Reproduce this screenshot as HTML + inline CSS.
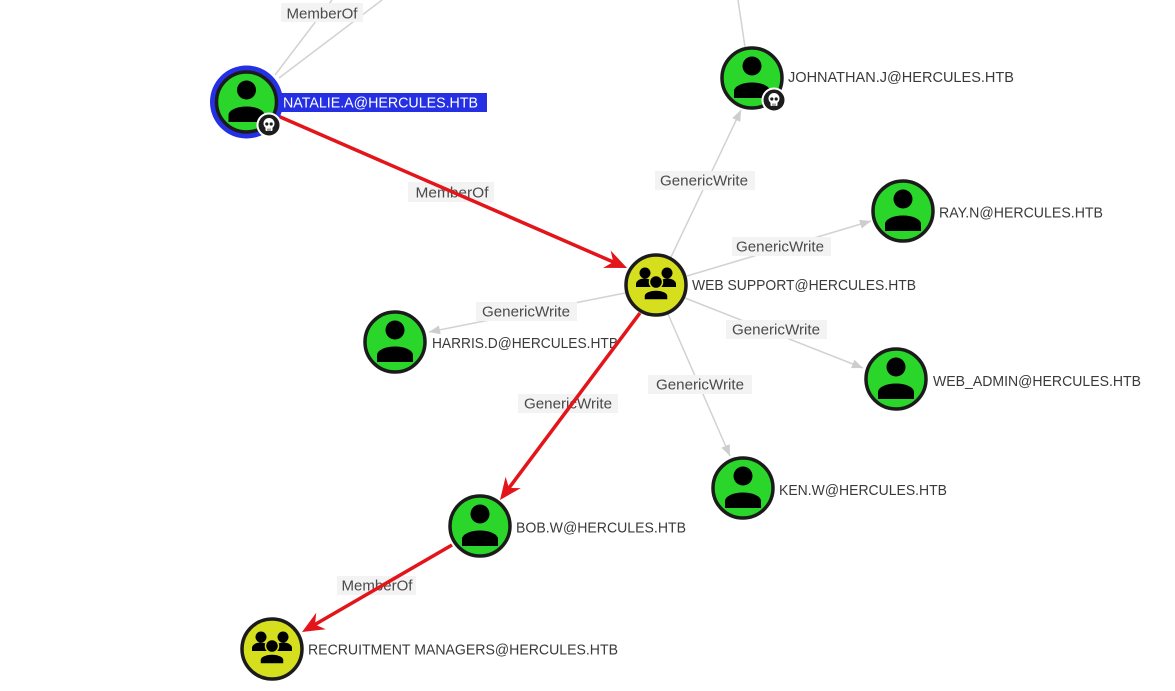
<!DOCTYPE html>
<html>
<head>
<meta charset="utf-8">
<style>
  html,body{margin:0;padding:0;background:#fff;}
  svg{display:block;}
  .el{font-family:"Liberation Sans",Arial,sans-serif;font-size:15px;fill:#4a4a4a;}
  .nl{font-family:"Liberation Sans",Arial,sans-serif;font-size:15px;fill:#3a3a3a;}
</style>
</head>
<body>
<svg width="1175" height="691" viewBox="0 0 1175 691" xmlns="http://www.w3.org/2000/svg">
  <defs>
    <marker id="ar" viewBox="-36 -11 38 22" refX="-14" refY="0" markerWidth="38" markerHeight="22" markerUnits="userSpaceOnUse" orient="auto">
      <path d="M0,0 L-22,-9.5 L-15,0 L-22,9.5 Z" fill="#e3151a"/>
    </marker>
    <marker id="ag" viewBox="-12 -6 14 12" refX="0" refY="0" markerWidth="14" markerHeight="12" markerUnits="userSpaceOnUse" orient="auto">
      <path d="M0,0 L-11,-4.5 L-11,4.5 Z" fill="#cdcdcd"/>
    </marker>
    <g id="user">
      <circle r="30" fill="#2bd62b" stroke="#1b1b1b" stroke-width="3.5"/>
      <circle cx="0" cy="-12" r="9.5" fill="#000"/>
      <path d="M-18,20 L-18,13 A18,8.5 0 0 1 18,13 L18,20 Z" fill="#000"/>
    </g>
    <g id="group">
      <circle r="30" fill="#d6df1e" stroke="#1b1b1b" stroke-width="3.5"/>
      <circle cx="-11" cy="-12" r="5.5" fill="#000"/>
      <circle cx="11" cy="-12" r="5.5" fill="#000"/>
      <path d="M-20,2 L-20,-1 A8.5,5.5 0 0 1 -3,-1 L-3,2 Z" fill="#000"/>
      <path d="M3,2 L3,-1 A8.5,5.5 0 0 1 20,-1 L20,2 Z" fill="#000"/>
      <circle cx="0" cy="-3" r="6.5" fill="#000" stroke="#d6df1e" stroke-width="1.5"/>
      <path d="M-12,15 L-12,11 A12,6 0 0 1 12,11 L12,15 Z" fill="#000" stroke="#d6df1e" stroke-width="1.5"/>
    </g>
    <g id="skull">
      <circle r="11.5" fill="#1c1c1c" stroke="#fff" stroke-width="2"/>
      <circle cx="0" cy="-1.5" r="5.5" fill="#fff"/>
      <rect x="-3.5" y="1" width="7" height="5" rx="1" fill="#fff"/>
      <circle cx="-2.2" cy="-1" r="1.6" fill="#1c1c1c"/>
      <circle cx="2.2" cy="-1" r="1.6" fill="#1c1c1c"/>
      <line x1="-1" y1="3.5" x2="-1" y2="6" stroke="#1c1c1c" stroke-width="0.8"/>
      <line x1="1" y1="3.5" x2="1" y2="6" stroke="#1c1c1c" stroke-width="0.8"/>
    </g>
  </defs>

  <!-- gray edges -->
  <g stroke="#d2d2d2" stroke-width="1.5" fill="none">
    <line x1="275" y1="75" x2="332" y2="0"/>
    <line x1="279" y1="78" x2="382" y2="0"/>
    <line x1="738" y1="0" x2="745" y2="47"/>
    <line x1="671" y1="257" x2="741" y2="110" marker-end="url(#ag)"/>
    <line x1="687" y1="276" x2="871" y2="221" marker-end="url(#ag)"/>
    <line x1="625" y1="293" x2="429" y2="332" marker-end="url(#ag)"/>
    <line x1="685" y1="298" x2="863" y2="368" marker-end="url(#ag)"/>
    <line x1="668" y1="314" x2="730" y2="456" marker-end="url(#ag)"/>
  </g>

  <!-- edge labels -->
  <g>
    <rect x="281" y="3" width="82" height="19" fill="#f3f3f3"/>
    <text class="el" x="322" y="18.5" text-anchor="middle" textLength="71" lengthAdjust="spacingAndGlyphs">MemberOf</text>

    <rect x="408" y="182" width="86" height="20" fill="#f3f3f3"/>
    <text class="el" x="452" y="197.5" text-anchor="middle" textLength="73" lengthAdjust="spacingAndGlyphs">MemberOf</text>

    <rect x="655" y="171" width="100" height="19" fill="#f3f3f3"/>
    <text class="el" x="704" y="185.5" text-anchor="middle" textLength="88" lengthAdjust="spacingAndGlyphs">GenericWrite</text>

    <rect x="732" y="237" width="99" height="19" fill="#f3f3f3"/>
    <text class="el" x="780" y="251.5" text-anchor="middle" textLength="88" lengthAdjust="spacingAndGlyphs">GenericWrite</text>

    <rect x="476" y="302" width="101" height="19" fill="#f3f3f3"/>
    <text class="el" x="526" y="316.5" text-anchor="middle" textLength="88" lengthAdjust="spacingAndGlyphs">GenericWrite</text>

    <rect x="726" y="320" width="101" height="19" fill="#f3f3f3"/>
    <text class="el" x="776" y="334.5" text-anchor="middle" textLength="88" lengthAdjust="spacingAndGlyphs">GenericWrite</text>

    <rect x="648" y="375" width="104" height="19" fill="#f3f3f3"/>
    <text class="el" x="700" y="389.5" text-anchor="middle" textLength="88" lengthAdjust="spacingAndGlyphs">GenericWrite</text>

    <rect x="518" y="394" width="100" height="19" fill="#f3f3f3"/>
    <text class="el" x="568" y="408.5" text-anchor="middle" textLength="88" lengthAdjust="spacingAndGlyphs">GenericWrite</text>

    <rect x="337" y="576" width="79" height="19" fill="#f3f3f3"/>
    <text class="el" x="377" y="590.5" text-anchor="middle" textLength="71" lengthAdjust="spacingAndGlyphs">MemberOf</text>
  </g>

  <!-- node labels -->
  <rect x="280" y="93" width="207" height="19" fill="#2530e4"/>
  <text class="nl" x="283" y="107.5" style="fill:#fff" textLength="195" lengthAdjust="spacingAndGlyphs">NATALIE.A@HERCULES.HTB</text>
  <text class="nl" x="788" y="82" textLength="226" lengthAdjust="spacingAndGlyphs">JOHNATHAN.J@HERCULES.HTB</text>
  <text class="nl" x="939" y="217.5" textLength="164" lengthAdjust="spacingAndGlyphs">RAY.N@HERCULES.HTB</text>
  <text class="nl" x="692" y="290" textLength="224" lengthAdjust="spacingAndGlyphs">WEB SUPPORT@HERCULES.HTB</text>
  <text class="nl" x="432" y="348" textLength="186" lengthAdjust="spacingAndGlyphs">HARRIS.D@HERCULES.HTB</text>
  <text class="nl" x="933" y="386" textLength="208" lengthAdjust="spacingAndGlyphs">WEB_ADMIN@HERCULES.HTB</text>
  <text class="nl" x="779" y="495" textLength="168" lengthAdjust="spacingAndGlyphs">KEN.W@HERCULES.HTB</text>
  <text class="nl" x="516" y="532.5" textLength="170" lengthAdjust="spacingAndGlyphs">BOB.W@HERCULES.HTB</text>
  <text class="nl" x="308" y="654.5" textLength="310" lengthAdjust="spacingAndGlyphs">RECRUITMENT MANAGERS@HERCULES.HTB</text>

  <!-- red edges -->
  <g stroke="#e3151a" stroke-width="3.5" fill="none">
    <line x1="278" y1="116" x2="614.2" y2="262.4" marker-end="url(#ar)"/>
    <line x1="640" y1="313" x2="508.4" y2="488.8" marker-end="url(#ar)"/>
    <line x1="452" y1="545" x2="314.1" y2="625" marker-end="url(#ar)"/>
  </g>

  <!-- nodes -->
  <circle cx="246.5" cy="102" r="36.5" fill="#2530e4"/>
  <use href="#user" x="246.5" y="102"/>
  <use href="#skull" x="269" y="125"/>

  <use href="#user" x="752" y="78"/>
  <use href="#skull" x="774" y="100"/>

  <use href="#user" x="903" y="211"/>
  <use href="#group" x="656" y="285"/>
  <use href="#user" x="395" y="342"/>
  <use href="#user" x="896" y="379"/>
  <use href="#user" x="743" y="488"/>
  <use href="#user" x="480" y="526"/>
  <use href="#group" x="272" y="649"/>
</svg>
</body>
</html>
